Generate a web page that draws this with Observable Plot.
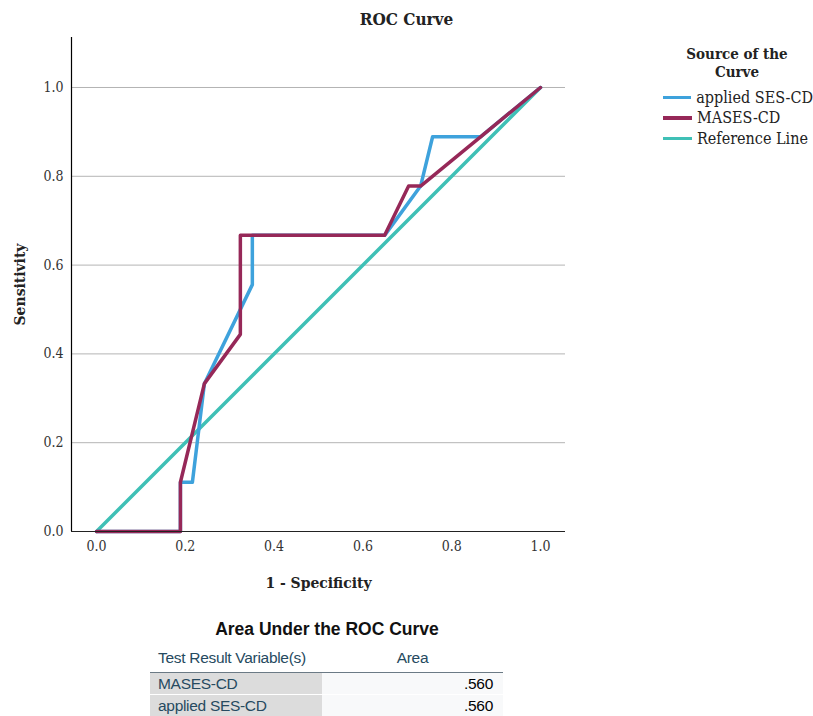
<!DOCTYPE html>
<html>
<head>
<meta charset="utf-8">
<script src="https://cdn.jsdelivr.net/npm/d3@7"></script>
<script src="https://cdn.jsdelivr.net/npm/@observablehq/plot@0.6"></script>
<style>
  html, body { margin: 0; padding: 0; background: #fff; }
  #wrap { position: relative; width: 813px; height: 716px; overflow: hidden; }
  #chart { position: absolute; left: 0; top: 0; }
  .serif { font-family: "DejaVu Serif Condensed", "DejaVu Serif", serif; font-stretch: condensed; }
  #title { position: absolute; left: 0; width: 813px; top: 9px; text-align: center; font-weight: bold; font-size: 17px; color: #222; }
  #legend { position: absolute; left: 660px; top: 45px; width: 153px; }
  #legend .lt { text-align: center; font-weight: bold; font-size: 15px; line-height: 18px; color: #222; width: 154px; }
  #legend .item { display: flex; align-items: center; height: 20.5px; font-size: 16px; color: #222; white-space: nowrap; }
  #legend .sw { width: 29px; height: 3.5px; margin-left: 3px; margin-right: 5px; }
  #tbl { position: absolute; left: 150px; top: 619px; width: 354px; font-family: "Liberation Sans", Arial, sans-serif; }
  #tbl .tt { text-align: center; font-weight: bold; font-size: 17.5px; color: #111; width: 354px; }
  #tbl table { border-collapse: collapse; width: 353px; margin-top: 8px; font-size: 15.5px; letter-spacing: -0.3px; }
  #tbl th { font-weight: normal; color: #264a60; text-align: left; padding: 0 0 4px 8px; height: 20px; border-bottom: 1.5px solid #6b7a85; }
  #tbl th.a { text-align: center; padding-left: 0; }
  #tbl td { height: 21px; padding: 0 10px 0 8px; border-top: 1px solid #fff; }
  #tbl td.l { background: #dcdcdc; color: #264a60; width: 154px; }
  #tbl td.r { background: #f8f9fa; color: #010205; text-align: right; }
  svg text { font-family: "DejaVu Serif Condensed", "DejaVu Serif", serif; }
  svg g[aria-label="x-axis label"] text, svg g[aria-label="y-axis label"] text { font-weight: bold; fill: #222; font-size: 15.5px; }
</style>
</head>
<body>
<div id="wrap">
  <div id="chart"></div>
  <div id="title" class="serif">ROC Curve</div>
  <div id="legend" class="serif"></div>
  <div id="tbl"></div>
</div>
<script>
// ROC points (1 - Specificity, Sensitivity)
const sesX  = [0, 0.189, 0.189, 0.216, 0.243, 0.351, 0.351, 0.649, 0.730, 0.757, 0.865, 1];
const sesY  = [0, 0,     0.111, 0.111, 0.333, 0.556, 0.667, 0.667, 0.778, 0.889, 0.889, 1];
const masX  = [0, 0.189, 0.189, 0.243, 0.324, 0.324, 0.649, 0.703, 0.730, 0.865, 1];
const masY  = [0, 0,     0.111, 0.333, 0.444, 0.667, 0.667, 0.778, 0.778, 0.889, 1];
const refX  = [0, 1];
const refY  = [0, 1];
const seriesNames = ["applied SES-CD", "MASES-CD", "Reference Line"];
const seriesColors = ["#3ea2dc", "#962858", "#3fc0b6"];
const tickValues = [0, 0.2, 0.4, 0.6, 0.8, 1.0];
const aucNames = ["MASES-CD", "applied SES-CD"];
const aucValues = [".560", ".560"];

const toRows = (xs, ys, s) => xs.map((x, i) => ({x, y: ys[i], s}));
const ses = toRows(sesX, sesY, seriesNames[0]);
const mas = toRows(masX, masY, seriesNames[1]);
const ref = toRows(refX, refY, seriesNames[2]);

const xDom = [-0.0563, 1.0563];
const yDom = [0, 1.1126];

const plot = Plot.plot({
  width: 813,
  height: 600,
  marginLeft: 71,
  marginRight: 248,
  marginTop: 37,
  marginBottom: 69,
  style: { fontSize: "14px", color: "#333", background: "transparent" },
  x: { domain: xDom },
  y: { domain: yDom },
  marks: [
    Plot.ruleY(tickValues.slice(1), { x1: xDom[0], x2: xDom[1], stroke: "#b4b4b4", strokeWidth: 1 }),
    Plot.line(ref, { x: "x", y: "y", stroke: seriesColors[2], strokeWidth: 3.5 }),
    Plot.line(ses, { x: "x", y: "y", stroke: seriesColors[0], strokeWidth: 3.5 }),
    Plot.line(mas, { x: "x", y: "y", stroke: seriesColors[1], strokeWidth: 3.5 }),
    Plot.ruleX([xDom[0]], { y1: yDom[0], y2: yDom[1], stroke: "#000", strokeWidth: 1.2 }),
    Plot.ruleY([0], { x1: xDom[0], x2: xDom[1], stroke: "#222", strokeWidth: 1.2 }),
    Plot.axisX({ ticks: tickValues, tickFormat: d3.format(".1f"), tickSize: 0, tickPadding: 10,
      label: "1 - Specificity", labelAnchor: "center", labelOffset: 56, labelArrow: "none", fill: "#333" }),
    Plot.axisY({ ticks: tickValues, tickFormat: d3.format(".1f"), tickSize: 0, tickPadding: 8,
      label: "Sensitivity", labelAnchor: "center", labelOffset: 58, labelArrow: "none", fill: "#333" })
  ]
});
document.getElementById("chart").appendChild(plot);

// legend
const lg = document.getElementById("legend");
lg.innerHTML = '<div class="lt">Source of the<br>Curve</div>' +
  '<div style="height:6px"></div>' +
  seriesNames.map((n, i) => `<div class="item"><span class="sw" style="background:${seriesColors[i]}"></span><span>${n}</span></div>`).join("");

// table
const tb = document.getElementById("tbl");
tb.innerHTML = '<div class="tt">Area Under the ROC Curve</div>' +
  '<table><tr><th>Test Result Variable(s)</th><th class="a">Area</th></tr>' +
  aucNames.map((n, i) => `<tr><td class="l">${n}</td><td class="r">${aucValues[i]}</td></tr>`).join("") +
  '</table>';
</script>
</body>
</html>
